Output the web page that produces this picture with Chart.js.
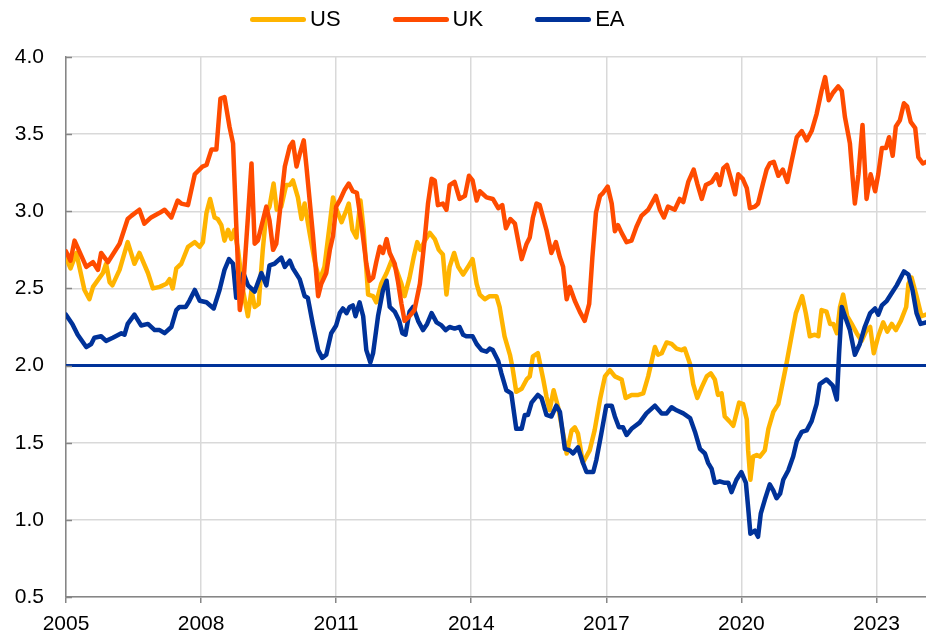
<!DOCTYPE html>
<html>
<head>
<meta charset="utf-8">
<script src="https://cdn.jsdelivr.net/npm/chart.js@4/dist/chart.umd.min.js"></script>
<style>
  html, body { margin: 0; padding: 0; background: #ffffff; }
  #wrap { position: relative; width: 926px; height: 637px; }
  #legend {
      position: absolute; top: 6px; left: 250px;
      display: flex; align-items: center;
      font-family: Arial, "Liberation Sans", sans-serif; font-size: 22px; color: #000;
  }
  .item { display: flex; align-items: center; margin-right: 52px; }
  .swatch { width: 56px; height: 5px; border-radius: 3px; margin-right: 4px; }
</style>
</head>
<body>
<div id="wrap">
  <canvas id="chart" width="926" height="637"></canvas>
  <div id="legend"></div>
</div>
<script>
// ---- data (decimal years) ----
const usX = [2005.00,2005.10,2005.23,2005.41,2005.52,2005.60,2005.82,2005.89,2005.97,2006.03,2006.19,2006.37,2006.52,2006.63,2006.82,2006.93,2007.08,2007.23,2007.30,2007.37,2007.45,2007.56,2007.71,2007.86,2007.97,2008.04,2008.12,2008.20,2008.30,2008.37,2008.45,2008.52,2008.60,2008.67,2008.74,2008.82,2008.93,2009.04,2009.12,2009.19,2009.28,2009.37,2009.45,2009.52,2009.61,2009.68,2009.78,2009.89,2009.97,2010.04,2010.15,2010.23,2010.30,2010.41,2010.52,2010.63,2010.74,2010.86,2010.93,2011.00,2011.12,2011.23,2011.28,2011.36,2011.45,2011.54,2011.61,2011.71,2011.82,2011.89,2012.00,2012.12,2012.23,2012.34,2012.45,2012.52,2012.63,2012.72,2012.80,2012.87,2012.97,2013.08,2013.19,2013.28,2013.37,2013.45,2013.52,2013.62,2013.71,2013.82,2013.93,2014.03,2014.12,2014.19,2014.30,2014.41,2014.56,2014.63,2014.74,2014.86,2014.92,2015.00,2015.12,2015.23,2015.30,2015.37,2015.48,2015.60,2015.67,2015.74,2015.83,2015.93,2016.04,2016.12,2016.23,2016.30,2016.37,2016.48,2016.63,2016.74,2016.86,2016.97,2017.08,2017.19,2017.34,2017.43,2017.56,2017.71,2017.82,2017.93,2018.08,2018.15,2018.23,2018.34,2018.45,2018.56,2018.67,2018.74,2018.86,2018.93,2019.02,2019.12,2019.23,2019.32,2019.41,2019.48,2019.56,2019.63,2019.73,2019.82,2019.89,2019.95,2020.04,2020.12,2020.15,2020.20,2020.26,2020.34,2020.41,2020.52,2020.60,2020.71,2020.82,2020.89,2021.00,2021.12,2021.21,2021.35,2021.43,2021.52,2021.63,2021.71,2021.78,2021.89,2021.97,2022.04,2022.12,2022.19,2022.26,2022.35,2022.45,2022.56,2022.67,2022.78,2022.86,2022.94,2023.04,2023.15,2023.24,2023.34,2023.43,2023.54,2023.66,2023.71,2023.78,2023.89,2024.00,2024.10];
const usY = [2.70,2.63,2.73,2.49,2.43,2.51,2.60,2.66,2.54,2.52,2.62,2.80,2.66,2.73,2.60,2.50,2.51,2.53,2.56,2.50,2.63,2.66,2.77,2.80,2.77,2.80,2.99,3.08,2.96,2.95,2.91,2.81,2.88,2.82,2.88,2.75,2.49,2.32,2.49,2.38,2.40,2.75,2.99,3.03,3.18,3.01,3.03,3.17,3.17,3.20,3.09,2.95,3.05,2.86,2.68,2.55,2.64,2.92,3.09,3.02,2.93,3.01,3.05,2.88,2.83,3.07,2.88,2.46,2.45,2.41,2.53,2.60,2.68,2.62,2.53,2.45,2.57,2.70,2.80,2.75,2.81,2.86,2.82,2.75,2.72,2.46,2.64,2.73,2.64,2.59,2.64,2.69,2.53,2.46,2.43,2.45,2.45,2.38,2.19,2.07,1.98,1.83,1.85,1.91,1.93,2.06,2.08,1.91,1.80,1.71,1.84,1.73,1.56,1.43,1.58,1.60,1.56,1.37,1.45,1.58,1.78,1.93,1.97,1.93,1.91,1.79,1.81,1.81,1.82,1.93,2.12,2.07,2.08,2.15,2.14,2.11,2.10,2.11,2.01,1.88,1.79,1.86,1.93,1.95,1.91,1.81,1.82,1.67,1.64,1.61,1.69,1.76,1.75,1.65,1.45,1.26,1.41,1.42,1.41,1.45,1.59,1.70,1.75,1.85,2.01,2.20,2.34,2.45,2.34,2.19,2.20,2.19,2.36,2.35,2.27,2.27,2.21,2.38,2.46,2.32,2.27,2.21,2.16,2.23,2.25,2.08,2.19,2.28,2.22,2.27,2.23,2.29,2.38,2.53,2.57,2.45,2.32,2.33];

const ukX = [2005.00,2005.10,2005.19,2005.45,2005.60,2005.71,2005.78,2005.93,2006.19,2006.37,2006.45,2006.63,2006.74,2006.89,2007.08,2007.19,2007.34,2007.48,2007.56,2007.71,2007.86,2008.03,2008.12,2008.23,2008.34,2008.43,2008.52,2008.63,2008.71,2008.78,2008.86,2008.93,2009.04,2009.12,2009.19,2009.26,2009.45,2009.52,2009.60,2009.67,2009.86,2009.97,2010.04,2010.12,2010.19,2010.28,2010.34,2010.48,2010.60,2010.67,2010.78,2010.86,2010.93,2011.00,2011.08,2011.19,2011.28,2011.37,2011.46,2011.56,2011.67,2011.74,2011.82,2011.89,2011.97,2012.04,2012.12,2012.19,2012.30,2012.37,2012.45,2012.52,2012.63,2012.74,2012.86,2012.97,2013.04,2013.12,2013.19,2013.26,2013.37,2013.45,2013.52,2013.63,2013.74,2013.86,2013.95,2014.03,2014.12,2014.19,2014.34,2014.48,2014.60,2014.69,2014.77,2014.87,2014.97,2015.12,2015.23,2015.30,2015.37,2015.45,2015.52,2015.67,2015.78,2015.88,2015.97,2016.04,2016.12,2016.19,2016.30,2016.41,2016.52,2016.62,2016.69,2016.77,2016.86,2016.93,2017.03,2017.12,2017.19,2017.26,2017.34,2017.45,2017.56,2017.67,2017.78,2017.93,2018.10,2018.19,2018.28,2018.37,2018.52,2018.63,2018.71,2018.82,2018.94,2019.02,2019.12,2019.21,2019.34,2019.45,2019.52,2019.60,2019.68,2019.76,2019.86,2019.93,2020.03,2020.12,2020.19,2020.30,2020.37,2020.48,2020.56,2020.63,2020.72,2020.82,2020.92,2021.02,2021.12,2021.23,2021.34,2021.45,2021.56,2021.67,2021.78,2021.86,2021.94,2022.04,2022.15,2022.23,2022.30,2022.41,2022.47,2022.52,2022.60,2022.69,2022.78,2022.87,2022.97,2023.04,2023.12,2023.21,2023.28,2023.36,2023.43,2023.52,2023.61,2023.68,2023.76,2023.86,2023.93,2024.03,2024.10];
const ukY = [2.74,2.68,2.81,2.64,2.67,2.62,2.73,2.67,2.79,2.95,2.97,3.01,2.92,2.96,2.99,3.01,2.96,3.07,3.05,3.04,3.24,3.29,3.30,3.40,3.40,3.73,3.74,3.55,3.44,2.92,2.36,2.49,2.96,3.31,2.79,2.81,3.03,2.94,2.75,2.79,3.29,3.42,3.45,3.29,3.37,3.46,3.29,2.86,2.45,2.53,2.60,2.75,2.84,3.03,3.07,3.14,3.18,3.13,3.12,2.92,2.66,2.55,2.57,2.67,2.77,2.73,2.82,2.73,2.66,2.55,2.40,2.29,2.32,2.36,2.53,2.83,3.05,3.21,3.20,3.04,3.05,3.01,3.17,3.19,3.08,3.10,3.23,3.20,3.07,3.13,3.09,3.08,3.02,3.04,2.89,2.95,2.92,2.69,2.79,2.83,2.96,3.05,3.04,2.88,2.73,2.80,2.70,2.64,2.43,2.51,2.42,2.35,2.29,2.40,2.70,2.99,3.10,3.12,3.16,3.05,2.87,2.91,2.86,2.80,2.81,2.90,2.97,3.01,3.10,3.01,2.96,3.03,3.01,3.08,3.06,3.19,3.27,3.18,3.08,3.17,3.19,3.24,3.17,3.28,3.30,3.22,3.11,3.24,3.21,3.15,3.02,3.03,3.05,3.18,3.27,3.31,3.32,3.23,3.27,3.19,3.33,3.48,3.52,3.46,3.52,3.63,3.78,3.87,3.72,3.77,3.81,3.78,3.61,3.44,3.22,3.05,3.24,3.56,3.08,3.24,3.13,3.24,3.41,3.41,3.48,3.36,3.55,3.59,3.70,3.68,3.58,3.54,3.35,3.31,3.32];

const eaX = [2005.00,2005.14,2005.26,2005.45,2005.56,2005.63,2005.78,2005.89,2006.04,2006.23,2006.30,2006.37,2006.52,2006.67,2006.82,2006.97,2007.08,2007.19,2007.34,2007.45,2007.52,2007.66,2007.74,2007.86,2007.97,2008.12,2008.28,2008.41,2008.52,2008.62,2008.71,2008.78,2008.86,2008.94,2009.04,2009.19,2009.34,2009.45,2009.52,2009.63,2009.78,2009.86,2009.97,2010.04,2010.19,2010.30,2010.37,2010.48,2010.60,2010.69,2010.78,2010.89,2011.00,2011.08,2011.15,2011.23,2011.30,2011.37,2011.43,2011.52,2011.60,2011.67,2011.76,2011.82,2011.93,2012.04,2012.12,2012.19,2012.30,2012.40,2012.47,2012.54,2012.63,2012.71,2012.82,2012.93,2013.02,2013.12,2013.23,2013.34,2013.43,2013.52,2013.63,2013.74,2013.82,2013.89,2014.03,2014.12,2014.23,2014.34,2014.41,2014.48,2014.60,2014.67,2014.78,2014.89,2015.00,2015.12,2015.19,2015.26,2015.34,2015.48,2015.56,2015.67,2015.78,2015.89,2015.97,2016.08,2016.19,2016.26,2016.37,2016.48,2016.56,2016.71,2016.78,2016.89,2017.00,2017.12,2017.19,2017.28,2017.37,2017.45,2017.56,2017.74,2017.89,2018.08,2018.23,2018.34,2018.45,2018.56,2018.71,2018.86,2018.97,2019.08,2019.19,2019.26,2019.34,2019.41,2019.52,2019.63,2019.71,2019.78,2019.89,2020.00,2020.10,2020.15,2020.20,2020.30,2020.37,2020.43,2020.52,2020.63,2020.71,2020.78,2020.86,2020.93,2021.04,2021.15,2021.23,2021.34,2021.45,2021.56,2021.67,2021.74,2021.89,2022.03,2022.12,2022.17,2022.23,2022.30,2022.41,2022.52,2022.63,2022.74,2022.86,2022.97,2023.04,2023.12,2023.23,2023.34,2023.45,2023.54,2023.61,2023.71,2023.80,2023.89,2023.98,2024.10];
const eaY = [2.33,2.27,2.20,2.12,2.14,2.18,2.19,2.16,2.18,2.21,2.20,2.27,2.33,2.26,2.27,2.23,2.23,2.21,2.25,2.36,2.38,2.38,2.42,2.49,2.42,2.41,2.37,2.49,2.62,2.69,2.66,2.44,2.45,2.60,2.52,2.48,2.60,2.52,2.65,2.66,2.70,2.64,2.68,2.63,2.56,2.45,2.44,2.27,2.10,2.05,2.07,2.21,2.26,2.34,2.37,2.34,2.38,2.39,2.32,2.41,2.32,2.10,2.02,2.08,2.32,2.49,2.55,2.38,2.35,2.29,2.21,2.20,2.35,2.38,2.29,2.23,2.27,2.34,2.28,2.26,2.23,2.25,2.24,2.25,2.20,2.19,2.19,2.14,2.10,2.09,2.11,2.10,2.03,1.95,1.84,1.82,1.59,1.59,1.68,1.68,1.76,1.81,1.79,1.68,1.67,1.74,1.70,1.46,1.45,1.43,1.47,1.37,1.31,1.31,1.39,1.56,1.74,1.74,1.67,1.60,1.60,1.55,1.59,1.63,1.69,1.74,1.69,1.69,1.73,1.71,1.69,1.66,1.57,1.46,1.43,1.37,1.33,1.24,1.25,1.24,1.24,1.18,1.26,1.31,1.24,1.08,0.91,0.93,0.89,1.04,1.13,1.23,1.19,1.14,1.17,1.26,1.32,1.41,1.51,1.57,1.58,1.64,1.75,1.88,1.91,1.87,1.78,2.08,2.38,2.32,2.23,2.07,2.14,2.25,2.34,2.37,2.33,2.39,2.42,2.47,2.52,2.57,2.61,2.59,2.49,2.34,2.27,2.28];

const targetX = [2005, 2024.1];
const targetY = [2.0, 2.0];

const xTicks = [2005, 2008, 2011, 2014, 2017, 2020, 2023];
const yTicks = [0.5, 1.0, 1.5, 2.0, 2.5, 3.0, 3.5, 4.0];

const toPoints = (xs, ys) => xs.map((x, i) => ({ x: x, y: ys[i] }));

const AXIS_GREY = '#868686';
const GRID_GREY = '#d9d9d9';
const FONT = { family: 'Arial, "Liberation Sans", sans-serif', size: 21 };

// Small tick marks on the inside of the y axis
const innerTicks = {
    id: 'innerTicks',
    afterDatasetsDraw(chart) {
        const ctx = chart.ctx;
        const y = chart.scales.y;
        const left = chart.chartArea.left;
        ctx.save();
        ctx.strokeStyle = AXIS_GREY;
        ctx.lineWidth = 1.5;
        yTicks.forEach(v => {
            const py = Math.round(y.getPixelForValue(v)) + 0.5;
            ctx.beginPath();
            ctx.moveTo(left, py);
            ctx.lineTo(left + 6, py);
            ctx.stroke();
        });
        ctx.restore();
    }
};

const line = (label, xs, ys, color, order) => ({
    label: label,
    data: toPoints(xs, ys),
    borderColor: color,
    backgroundColor: color,
    borderWidth: 4.5,
    pointRadius: 0,
    tension: 0,
    borderJoinStyle: 'round',
    borderCapStyle: 'round',
    order: order
});

const chart = new Chart(document.getElementById('chart'), {
    type: 'line',
    data: {
        datasets: [
            line('US', usX, usY, '#FFB400', 3),
            line('UK', ukX, ukY, '#FF4B00', 1),
            line('EA', eaX, eaY, '#003299', 2),
            {
                label: 'target',
                data: toPoints(targetX, targetY),
                borderColor: '#003299',
                borderWidth: 3,
                pointRadius: 0,
                order: 0
            }
        ]
    },
    options: {
        responsive: false,
        animation: false,
        layout: { padding: { top: 57, right: 0, left: 0, bottom: 0 } },
        plugins: {
            legend: { display: false },
            tooltip: { enabled: false }
        },
        scales: {
            x: {
                type: 'linear',
                min: 2005,
                max: 2024.1,
                afterBuildTicks: scale => { scale.ticks = xTicks.map(v => ({ value: v })); },
                afterFit: scale => { scale.height = 40; },
                border: { color: AXIS_GREY, width: 1.5 },
                grid: { color: GRID_GREY, lineWidth: 1.5, tickColor: AXIS_GREY, tickLength: 6 },
                ticks: {
                    color: '#000000',
                    font: FONT,
                    padding: 9,
                    maxRotation: 0,
                    callback: v => String(v)
                }
            },
            y: {
                min: 0.5,
                max: 4.0,
                afterBuildTicks: scale => { scale.ticks = yTicks.map(v => ({ value: v })); },
                afterFit: scale => { scale.width = 66; },
                border: { color: AXIS_GREY, width: 1.5 },
                grid: { color: GRID_GREY, lineWidth: 1.5, drawTicks: false },
                ticks: {
                    color: '#000000',
                    font: FONT,
                    padding: 22,
                    callback: v => v.toFixed(1)
                }
            }
        }
    },
    plugins: [innerTicks]
});

// HTML legend built from the series datasets
const legendEl = document.getElementById('legend');
chart.data.datasets.filter(ds => ds.label !== 'target').forEach(ds => {
    const item = document.createElement('div');
    item.className = 'item';
    const sw = document.createElement('span');
    sw.className = 'swatch';
    sw.style.background = ds.borderColor;
    const txt = document.createElement('span');
    txt.textContent = ds.label;
    item.appendChild(sw);
    item.appendChild(txt);
    legendEl.appendChild(item);
});
</script>
</body>
</html>
